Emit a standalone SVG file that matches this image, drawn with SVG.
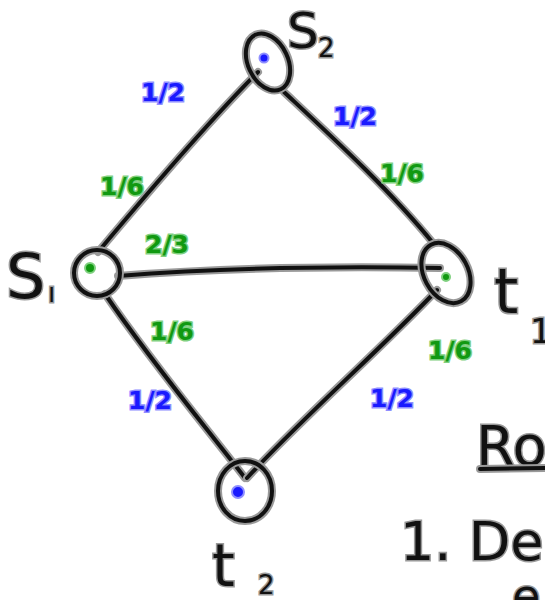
<svg xmlns="http://www.w3.org/2000/svg" width="545" height="600" viewBox="0 0 545 600">
<style>
.halo{fill:none;stroke:#9a9a9a;stroke-width:8;stroke-linecap:round;stroke-linejoin:round}
.ink{fill:none;stroke:#111;stroke-width:4;stroke-linecap:round;stroke-linejoin:round}
.hw{font-family:"DejaVu Sans",sans-serif;fill:#111;stroke:#9a9a9a;stroke-width:3;paint-order:stroke}
.blue{font-family:"DejaVu Sans",sans-serif;font-size:25px;font-weight:bold;fill:#1a1aff;stroke:#8f8fff;stroke-width:3;paint-order:stroke;text-anchor:middle}
.green{font-family:"DejaVu Sans",sans-serif;font-size:25px;font-weight:bold;fill:#119911;stroke:#7fd07f;stroke-width:3;paint-order:stroke;text-anchor:middle}
</style>
<rect width="545" height="600" fill="#fff"/>
<g id="connectors">
<path id="e-s1-s2" class="halo" d="M98,252 C150,190 210,120 258,72"/>
<path class="ink" d="M98,252 C150,190 210,120 258,72"/>
<path id="e-s2-t1" class="halo" d="M284,92 C330,135 390,190 433,243"/>
<path class="ink" d="M284,92 C330,135 390,190 433,243"/>
<path id="e-s1-t1" class="halo" d="M118,276 C220,268 330,266 440,268"/>
<path class="ink" d="M118,276 C220,268 330,266 440,268"/>
<path id="e-s1-t2" class="halo" d="M105,294 C150,360 200,420 245,478"/>
<path class="ink" d="M105,294 C150,360 200,420 245,478"/>
<path id="e-t1-t2" class="halo" d="M437,290 C380,350 300,420 247,478"/>
<path class="ink" d="M437,290 C380,350 300,420 247,478"/>
</g>
<g id="node-s1">
<ellipse class="halo" cx="97" cy="273" rx="23" ry="23"/>
<ellipse class="ink" cx="97" cy="273" rx="23" ry="23"/>
<circle cx="90" cy="268" r="5" fill="#119911" stroke="#7fd07f" stroke-width="2"/>
<text class="hw" x="6" y="298" font-size="62">S</text>
<text class="hw" x="48" y="302" font-size="26">ı</text>
</g>
<g id="node-s2">
<ellipse class="halo" cx="268" cy="62" rx="20" ry="30" transform="rotate(-25 268 62)"/>
<ellipse class="ink" cx="268" cy="62" rx="20" ry="30" transform="rotate(-25 268 62)"/>
<circle cx="264" cy="58" r="4.5" fill="#1a1aff" stroke="#8f8fff" stroke-width="2"/>
<text class="hw" x="287" y="48" font-size="50">S</text>
<text class="hw" x="318" y="57" font-size="26">2</text>
</g>
<g id="node-t1">
<ellipse class="halo" cx="446" cy="273" rx="22" ry="32" transform="rotate(-28 446 273)"/>
<ellipse class="ink" cx="446" cy="273" rx="22" ry="32" transform="rotate(-28 446 273)"/>
<circle cx="446" cy="277" r="4" fill="#119911" stroke="#7fd07f" stroke-width="2"/>
<text class="hw" x="494" y="313" font-size="62">t</text>
<text class="hw" x="530" y="343" font-size="34">1</text>
</g>
<g id="node-t2">
<ellipse class="halo" cx="245" cy="491" rx="27" ry="30"/>
<ellipse class="ink" cx="245" cy="491" rx="27" ry="30"/>
<circle cx="238" cy="492" r="6" fill="#1a1aff" stroke="#8f8fff" stroke-width="2"/>
<text class="hw" x="212" y="586" font-size="58">t</text>
<text class="hw" x="258" y="594" font-size="26">2</text>
</g>
<g id="labels">
<text class="blue" x="163" y="101">1/2</text>
<text class="green" x="122" y="195">1/6</text>
<text class="blue" x="355" y="125">1/2</text>
<text class="green" x="402" y="182">1/6</text>
<text class="green" x="167" y="253">2/3</text>
<text class="green" x="172" y="340">1/6</text>
<text class="blue" x="150" y="409">1/2</text>
<text class="green" x="450" y="359">1/6</text>
<text class="blue" x="392" y="407">1/2</text>
</g>
<g id="notes">
<text class="hw" x="476" y="465" font-size="56">Ro</text>
<path class="halo" d="M480,469 L545,468"/>
<path class="ink" d="M480,469 L545,468"/>
<text class="hw" x="400" y="560" font-size="54">1. Der</text>
<text class="hw" x="512" y="612" font-size="46">e</text>
</g>
</svg>
